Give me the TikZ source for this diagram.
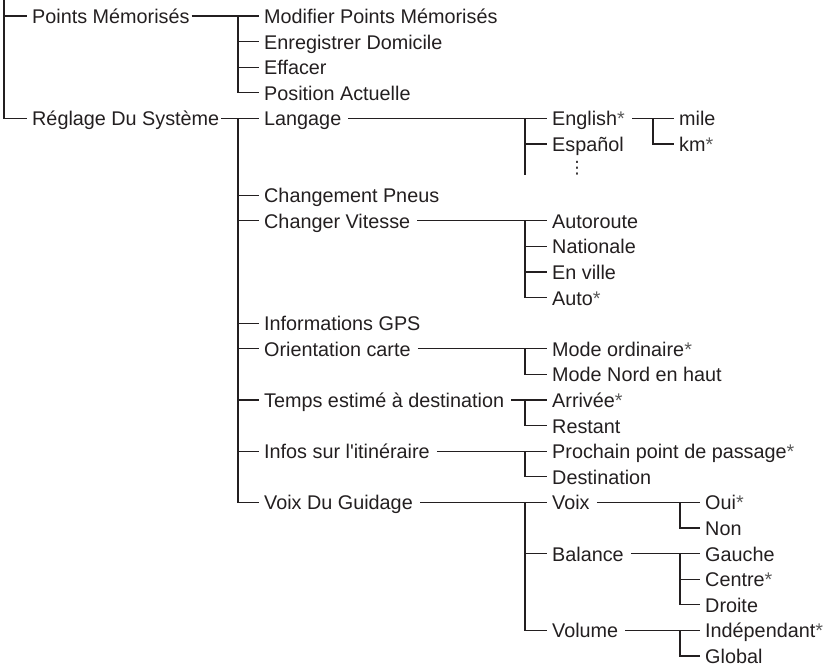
\documentclass[tikz,border=0pt]{standalone}
\usepackage{fontspec}
\setmainfont{Liberation Sans}[Ligatures=TeXOff]
\newfontfamily\dvfont{DejaVu Sans}
\definecolor{ink}{HTML}{231F20}
\definecolor{starc}{HTML}{5A5A5A}
\newcommand\stp{\textcolor{starc}{*}}
\begin{document}
\begin{tikzpicture}[x=1pt,y=-1pt,
  item/.style={inner xsep=0pt, inner ysep=0pt, text height=15pt, text depth=0pt,
    anchor=west, text=ink, font=\fontsize{19.8}{23}\selectfont},
  ln/.style={draw=ink, line width=1.2pt},
  br/.style={ln, shorten >=5pt},
  hl/.style={ln, shorten <=7pt, shorten >=5pt},
  hl0/.style={ln, shorten <=2pt, shorten >=5pt}]
\useasboundingbox (0,0) rectangle (828,667);
% column coordinates
\coordinate (c0) at (4,0);
\coordinate (c1) at (238,0);
\coordinate (c2) at (525,0);
\coordinate (c3) at (653,0);
\coordinate (c4) at (680,0);
% level 0
\node[item] (pm) at (32,16) {Points Mémorisés};
\node[item] (rs) at (32,118.4) {Réglage Du Système};
% level 1
\node[item] (mod) at (264,16) {Modifier Points Mémorisés};
\node[item] (enr) at (264,41.6) {Enregistrer Domicile};
\node[item] (eff) at (264,67.2) {Effacer};
\node[item] (pos) at (264,92.8) {Position Actuelle};
\node[item] (lang) at (264,118.4) {Langage};
\node[item] (pneu) at (264,195.2) {Changement Pneus};
\node[item] (vit) at (264,220.8) {Changer Vitesse};
\node[item] (gps) at (264,323.2) {Informations GPS};
\node[item] (ori) at (264,348.8) {Orientation carte};
\node[item] (tps) at (264,400) {Temps estimé à destination};
\node[item] (iti) at (264,451.2) {Infos sur l'itinéraire};
\node[item] (vdg) at (264,502.4) {Voix Du Guidage};
% level 2
\node[item] (en) at (552,118.4) {English\stp};
\node[item] (es) at (552,144) {Español};
\node[text=ink, inner sep=0pt, font=\dvfont\fontsize{17}{19}\selectfont] (dots) at (577,168) {⋮};
\node[item] (aur) at (552,220.8) {Autoroute};
\node[item] (nat) at (552,246.4) {Nationale};
\node[item] (vil) at (552,272) {En ville};
\node[item] (aut) at (552,297.6) {Auto\stp};
\node[item] (mo) at (552,348.8) {Mode ordinaire\stp};
\node[item] (mn) at (552,374.4) {Mode Nord en haut};
\node[item] (arr) at (552,400) {Arrivée\stp};
\node[item] (rst) at (552,425.6) {Restant};
\node[item] (pro) at (552,451.2) {Prochain point de passage\stp};
\node[item] (dst) at (552,476.8) {Destination};
\node[item] (vx) at (552,502.4) {Voix};
\node[item] (bal) at (552,553.6) {Balance};
\node[item] (vol) at (552,630.4) {Volume};
% level 3
\node[item] (mile) at (679,118.4) {mile};
\node[item] (km) at (679,144) {km\stp};
\node[item] (oui) at (705,502.4) {Oui\stp};
\node[item] (non) at (705,528) {Non};
\node[item] (gau) at (705,553.6) {Gauche};
\node[item] (cen) at (705,579.2) {Centre\stp};
\node[item] (dro) at (705,604.8) {Droite};
\node[item] (ind) at (705,630.4) {Indépendant\stp};
\node[item] (glo) at (705,656) {Global};
% root
\draw[br] (c0) -- (c0 |- rs.west) -- (rs.west);
\draw[br] (c0 |- pm.west) -- (pm.west);
% Points Memorises group
\draw[hl0] (pm.east) -- (mod.west);
\draw[br] (c1 |- mod.west) -- (c1 |- pos.west) -- (pos.west);
\draw[br] (c1 |- enr.west) -- (enr.west);
\draw[br] (c1 |- eff.west) -- (eff.west);
% Reglage group
\draw[hl0] (rs.east) -- (lang.west);
\draw[br] (c1 |- lang.west) -- (c1 |- vdg.west) -- (vdg.west);
\foreach \n in {pneu,vit,gps,ori,tps,iti} \draw[br] (c1 |- \n.west) -- (\n.west);
% Langage
\draw[hl] (lang.east) -- (en.west);
\draw[ln] (c2 |- en.west) -- (c2 |- dots.south);
\draw[br] (c2 |- es.west) -- (es.west);
\draw[hl] (en.east) -- (mile.west);
\draw[br] (c3 |- mile.west) -- (c3 |- km.west) -- (km.west);
% Changer Vitesse
\draw[hl] (vit.east) -- (aur.west);
\draw[br] (c2 |- aur.west) -- (c2 |- aut.west) -- (aut.west);
\draw[br] (c2 |- nat.west) -- (nat.west);
\draw[br] (c2 |- vil.west) -- (vil.west);
% Orientation
\draw[hl] (ori.east) -- (mo.west);
\draw[br] (c2 |- mo.west) -- (c2 |- mn.west) -- (mn.west);
% Temps
\draw[hl] (tps.east) -- (arr.west);
\draw[br] (c2 |- arr.west) -- (c2 |- rst.west) -- (rst.west);
% Infos
\draw[hl] (iti.east) -- (pro.west);
\draw[br] (c2 |- pro.west) -- (c2 |- dst.west) -- (dst.west);
% Voix du guidage
\draw[hl] (vdg.east) -- (vx.west);
\draw[br] (c2 |- vx.west) -- (c2 |- vol.west) -- (vol.west);
\draw[br] (c2 |- bal.west) -- (bal.west);
% Voix
\draw[hl] (vx.east) -- (oui.west);
\draw[br] (c4 |- oui.west) -- (c4 |- non.west) -- (non.west);
% Balance
\draw[hl] (bal.east) -- (gau.west);
\draw[br] (c4 |- gau.west) -- (c4 |- dro.west) -- (dro.west);
\draw[br] (c4 |- cen.west) -- (cen.west);
% Volume
\draw[hl] (vol.east) -- (ind.west);
\draw[br] (c4 |- ind.west) -- (c4 |- glo.west) -- (glo.west);
\end{tikzpicture}
\end{document}
